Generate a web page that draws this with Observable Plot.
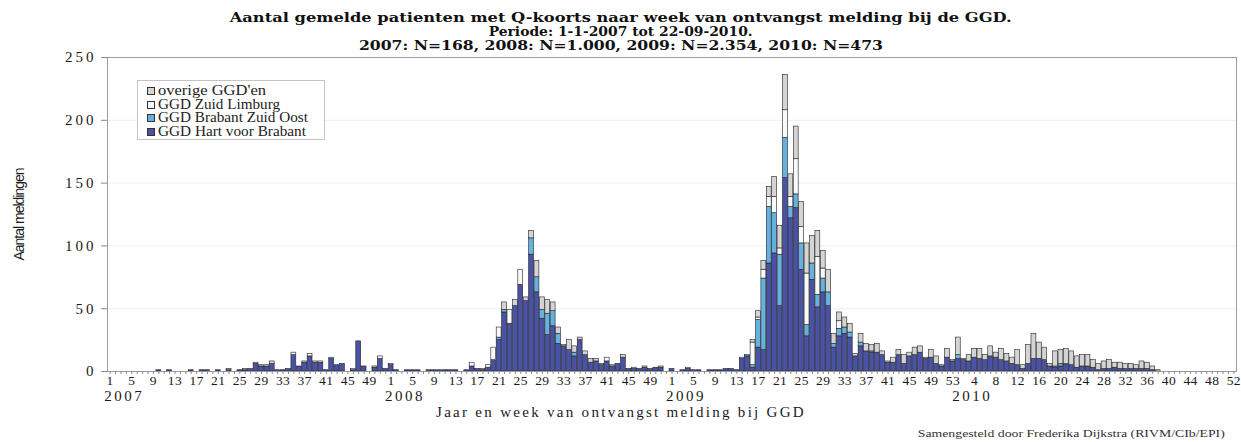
<!DOCTYPE html>
<html>
<head>
<meta charset="utf-8">
<script src="https://cdn.jsdelivr.net/npm/d3@7"></script>
<script src="https://cdn.jsdelivr.net/npm/@observablehq/plot@0.6"></script>
<style>
html,body{margin:0;padding:0;background:#fff;}
#wrap{position:relative;width:1241px;height:442px;overflow:hidden;background:#fff;color:#1a1a1a;}
#title{height:50px;box-sizing:border-box;padding-top:11px;text-align:center;font-family:"DejaVu Serif",serif;font-weight:bold;font-size:13px;line-height:13.8px;color:#111;}
#title div{white-space:nowrap;}
#title span,#caption span,.lt{display:inline-block;}
#chart svg{display:block;}
#caption{height:17px;line-height:17px;text-align:right;padding-right:16px;font-family:"Liberation Serif",serif;font-size:10px;color:#333;white-space:nowrap;}
#legend{position:absolute;left:137px;top:80px;width:188px;height:60px;border:1px solid #c4c4c4;background:#fff;box-sizing:border-box;padding-top:3px;font-family:"Liberation Serif",serif;font-size:14.5px;color:#222;}
.row{height:13.6px;line-height:13.6px;white-space:nowrap;}
.sw{display:inline-block;width:8px;height:8px;border:1px solid #333;margin-left:9px;margin-right:3px;box-sizing:border-box;vertical-align:0px;}
#chart g[aria-label="y-axis tick label"] text{letter-spacing:3px;}
#chart g[aria-label="x-axis tick label"] text{letter-spacing:0.4px;}
#chart g[aria-label="y-axis label"] text{font-family:"Liberation Sans Narrow","Liberation Sans",Arial,sans-serif;font-size:14px;}
#chart g[aria-label="x-axis label"] text{font-family:"Liberation Serif",serif;font-size:15px;}
</style>
</head>
<body>
<div id="wrap">
  <div id="title">
    <div><span>Aantal gemelde patienten met Q-koorts naar week van ontvangst melding bij de GGD.</span></div>
    <div><span>Periode: 1-1-2007 tot 22-09-2010.</span></div>
    <div><span>2007: N=168, 2008: N=1.000, 2009: N=2.354, 2010: N=473</span></div>
  </div>
  <div id="chart"></div>
  <div id="caption"><span>Samengesteld door Frederika Dijkstra (RIVM/CIb/EPI)</span></div>
  <div id="legend"></div>
</div>
<script>
// ---------- categories ----------
const yearLabels = ["2007", "2008", "2009", "2010"];
const weeksPerYear = [52, 52, 53, 52];
const seriesNames = ["GGD Hart voor Brabant", "GGD Brabant Zuid Oost", "GGD Zuid Limburg", "overige GGD'en"];
const seriesColors = ["#4a52a6", "#67b1de", "#f7f9fb", "#d4d4d4"];

// ---------- tick labels ----------
const yTicks = [0, 50, 100, 150, 200, 250];
const labelWeeks2007 = [1, 5, 9, 13, 17, 21, 25, 29, 33, 37, 41, 45, 49];
const labelWeeks2008 = [1, 5, 9, 13, 17, 21, 25, 29, 33, 37, 41, 45, 49];
const labelWeeks2009 = [1, 5, 9, 13, 17, 21, 25, 29, 33, 37, 41, 45, 49, 53];
const labelWeeks2010 = [4, 8, 12, 16, 20, 24, 28, 32, 36, 40, 44, 48, 52];

// ---------- series values (per week) ----------
// GGD Hart voor Brabant
const hvb2007 = [0,0,0,0,0,0,0,0,0,1, 0,1,0,0,0,1,0,1,1,0, 1,0,1,0,1,1,2,6,4,4, 6,1,1,2,13,4,7,12,7,7, 1,10,5,6,0,1,24,4,0,3, 10,2];
const hvb2008 = [5,1,0,1,1,1,0,1,1,1, 1,1,1,0,1,4,2,1,3,9, 25,47,38,52,69,56,93,63,42,29, 36,22,20,17,12,25,13,7,8,5, 8,4,6,11,2,2,2,3,2,3, 3,0];
const hvb2009 = [2,0,1,2,1,1,0,1,1,1, 2,2,1,10,12,3,19,17,86,94, 52,154,122,130,81,28,73,51,63,52, 19,28,30,27,12,20,16,15,15,13, 7,7,13,6,12,13,15,10,11,6, 4,11,8];
const hvb2010 = [10,9,8,11,10,9,12,11,9,8, 6,5,2,6,10,10,9,4,3,4, 5,5,3,4,4,3,1,2,2,3, 2,2,2,2,2,2,1,0,0,0, 0,0,0,0,0,0,0,0,0,0, 0,0];
// GGD Brabant Zuid Oost
const bzo2007 = [0,0,0,0,0,0,0,0,0,0, 0,0,0,0,0,0,0,0,0,0, 0,0,0,0,0,0,0,0,0,0, 0,0,0,0,0,0,0,0,0,0, 0,0,0,0,0,0,0,0,0,0, 0,0];
const bzo2008 = [0,0,0,0,0,0,0,0,0,0, 0,0,0,0,0,0,0,0,0,0, 2,2,0,0,0,0,13,12,7,17, 12,8,0,0,3,0,0,0,0,0, 0,0,0,0,0,0,0,0,0,0, 0,0];
const bzo2009 = [0,0,0,0,0,0,0,0,0,0, 0,0,0,0,1,2,22,57,45,32, 41,32,9,11,21,9,13,10,11,11, 3,6,5,4,0,3,0,1,0,0, 0,0,0,0,0,0,0,0,0,0, 0,0,0];
const bzo2010 = [3,0,0,0,0,0,0,0,0,0, 0,0,0,0,0,0,0,0,1,2, 1,0,0,0,0,0,0,0,0,0, 0,0,0,0,0,0,0,0,0,0, 0,0,0,0,0,0,0,0,0,0, 0,0];
// GGD Zuid Limburg
const zl2007 = [0,0,0,0,0,0,0,0,0,0, 0,0,0,0,0,0,0,0,0,0, 0,0,0,0,0,0,0,0,0,1, 0,0,0,0,2,0,0,2,0,1, 0,0,0,0,0,1,0,0,0,0, 2,0];
const zl2008 = [0,0,0,0,0,0,0,0,0,0, 0,0,0,0,0,3,0,0,2,10, 8,0,11,0,12,0,0,0,0,0, 0,0,0,0,0,0,0,0,0,0, 3,0,0,0,0,0,0,0,0,0, 0,0];
const zl2009 = [0,0,0,0,0,0,0,0,0,0, 0,0,0,0,0,18,2,7,8,13, 5,22,8,28,13,41,0,30,8,0, 0,6,0,0,0,0,0,0,0,0, 0,0,0,0,0,0,0,0,0,0, 0,0,0];
const zl2010 = [0,0,0,0,0,0,0,0,0,0, 0,0,0,0,0,0,0,0,0,0, 0,0,0,0,0,0,0,0,0,0, 0,0,0,0,0,0,0,0,0,0, 0,0,0,0,0,0,0,0,0,0, 0,0];
// overige GGD'en
const ovr2007 = [0,0,0,0,0,0,0,0,0,0, 0,0,0,0,0,0,0,0,0,0, 0,0,1,0,0,1,0,1,1,0, 2,0,0,0,0,0,1,0,1,0, 0,1,0,0,0,0,0,0,0,1, 0,0];
const ovr2008 = [1,0,0,0,0,0,0,0,0,0, 0,0,0,0,0,0,0,1,0,0, 0,6,0,5,0,3,6,13,10,11, 7,5,1,8,5,2,3,3,2,1, 0,1,0,2,0,1,0,1,0,0, 1,0];
const ovr2009 = [0,0,0,1,0,0,0,0,0,0, 0,0,0,1,0,2,5,7,8,16, 18,28,18,26,20,24,22,21,14,18, 8,7,8,7,2,7,6,5,7,3, 1,4,4,7,3,6,5,1,6,6, 1,7,1];
const ovr2010 = [14,1,5,7,8,4,8,4,9,6, 5,12,3,15,20,13,10,2,12,11, 12,11,9,9,9,6,5,6,7,4, 5,4,4,3,6,5,3,1,0,0, 0,0,0,0,0,0,0,0,0,0, 0,0];

// ---------- build the long table ----------
const perSeries = [
  [hvb2007, hvb2008, hvb2009, hvb2010],
  [bzo2007, bzo2008, bzo2009, bzo2010],
  [zl2007, zl2008, zl2009, zl2010],
  [ovr2007, ovr2008, ovr2009, ovr2010]
];
const labelWeeks = [labelWeeks2007, labelWeeks2008, labelWeeks2009, labelWeeks2010];
const rows = [];
const weekText = new Map();
const yearText = new Map();
const labelIdx = [];
const yearIdx = [];
let offset = 0;
weeksPerYear.forEach((n, k) => {
  for (let w = 1; w <= n; w++) {
    const i = offset + w - 1;
    perSeries.forEach((arrs, s) => {
      const v = arrs[k][w - 1];
      if (v > 0) rows.push({i, s: seriesNames[s], v});
    });
  }
  labelWeeks[k].forEach(w => { labelIdx.push(offset + w - 1); weekText.set(offset + w - 1, String(w)); });
  yearIdx.push(offset);
  yearText.set(offset, yearLabels[k]);
  offset += n;
});
const idx = d3.range(offset);

const chart = Plot.plot({
  width: 1241,
  height: 375,
  marginLeft: 107,
  marginRight: 5,
  marginTop: 7,
  marginBottom: 54,
  style: {fontFamily: "'DejaVu Serif', serif", fontSize: "12px", color: "#1a1a1a", background: "#fff", overflow: "visible"},
  x: {type: "band", domain: idx, paddingInner: 0.1, paddingOuter: 0.05, label: null, axis: null},
  y: {domain: [0, 250], label: null, axis: null},
  color: {domain: seriesNames, range: seriesColors},
  marks: [
    Plot.ruleY(yTicks.slice(1, -1), {stroke: "#efefef"}),
    Plot.barY(rows, Plot.stackY({order: seriesNames}, {x: "i", y: "v", fill: "s", stroke: "#222", strokeWidth: 0.6})),
    Plot.frame({stroke: "#9c9c9c"}),
    Plot.axisY({ticks: yTicks, tickSize: 6, tickPadding: 5, fontFamily: "Liberation Serif", fontSize: 15, stroke: "#8a8a8a", label: "Aantal meldingen", labelAnchor: "center", labelOffset: 93, labelArrow: "none"}),
    Plot.axisX({ticks: idx, tickSize: 3, tickFormat: () => "", stroke: "#8a8a8a", label: null}),
    Plot.axisX({ticks: labelIdx, tickSize: 0, tickPadding: 4, tickFormat: i => weekText.get(i), fontFamily: "Liberation Serif", fontSize: 13.5, label: "Jaar en week van ontvangst melding bij GGD", labelAnchor: "center", labelOffset: 45, labelArrow: "none"}),
    Plot.axisX({ticks: yearIdx, tickSize: 0, tickPadding: 19, tickFormat: i => yearText.get(i), fontFamily: "Liberation Serif", fontSize: 15, textAnchor: "start", dx: -6, label: null})
  ]
});
document.getElementById("chart").appendChild(chart);

// ---------- text fitting ----------
chart.querySelectorAll('g[aria-label="y-axis label"] text, g[aria-label="x-axis label"] text').forEach(t => {
  t.textContent = t.textContent.replace(/[\u2190-\u2193]/g, "").trim();
});
function fitSvg(t, target) {
  const L = t.getComputedTextLength();
  const n = t.textContent.length;
  if (L > 0) t.style.letterSpacing = ((target - L) / n) + "px";
}
const xl = chart.querySelector('g[aria-label="x-axis label"] text');
if (xl) { fitSvg(xl, 370); xl.setAttribute("dx", "-51"); }
const yl = chart.querySelector('g[aria-label="y-axis label"] text');
if (yl) fitSvg(yl, 92);
chart.querySelectorAll('g[aria-label="x-axis tick label"] text').forEach(t => {
  if (t.textContent.length === 4) t.style.letterSpacing = "2.5px";
});

// legend (top entry = top of stack)
const legend = document.getElementById("legend");
const legendWidths = [148, 150, 122, 108];
[3, 2, 1, 0].forEach(k => {
  const row = document.createElement("div");
  row.className = "row";
  const sw = document.createElement("span");
  sw.className = "sw";
  sw.style.background = seriesColors[k];
  const lt = document.createElement("span");
  lt.className = "lt";
  lt.textContent = seriesNames[k];
  row.appendChild(sw);
  row.appendChild(lt);
  legend.appendChild(row);
  const w = lt.getBoundingClientRect().width;
  lt.style.transformOrigin = "left center";
  lt.style.transform = `scaleX(${legendWidths[k] / w})`;
});

function stretch(el, target, origin) {
  const w = el.getBoundingClientRect().width;
  if (w > 0) { el.style.transformOrigin = origin; el.style.transform = `scaleX(${target / w})`; }
}
const tl = document.querySelectorAll("#title span");
stretch(tl[0], 782, "center");
stretch(tl[1], 264, "center");
stretch(tl[2], 524, "center");
stretch(document.querySelector("#caption span"), 307, "right center");
</script>
</body>
</html>
